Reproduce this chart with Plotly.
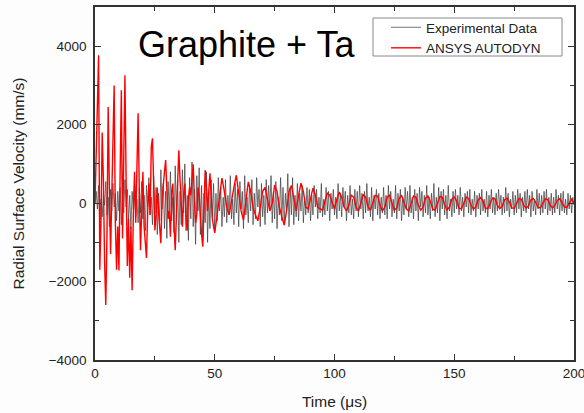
import plotly.graph_objects as go

# ---- Experimental data (black), sampled every 0.5 us from 0 to 200 us ----
exp_step = 0.5
exp_vel = [
    0, 300, -150, 450, -500, 100, -350, 250, -50, 550, -300, 150, -600, 350, -200, 500, -100, 250, -450, 300,
    -200, 400, -550, 150, -250, 600, -100, 350, -450, 200, -650, 300, -150, 500, -350, 100, -500, 400, -250, 550,
    -400, 200, -700, 450, -100, 650, -300, 150, -550, 700, -250, 400, -800, 250, -450, 850, -150, 500, -650, 300,
    -900, 550, -200, 800, -450, 150, -750, 950, -350, 600, -1000, 300, -550, 850, -250, 1000, -700, 200, -950, 650,
    -400, 1050, -600, 350, -1050, 700, -200, 900, -800, 450, -950, 250, -500, 800, -1000, 300, -650, 600, -350, 500,
    -700, 250, -450, 650, -200, 400, -600, 150, -350, 600, -500, 200, -300, 700, -400, 100, -550, 500, -250, 350,
    -600, 550, -150, 300, -650, 700, -300, 150, -500, 450, -200, 600, -550, 250, -400, 650, -100, 350, -600, 500,
    -350, 200, -550, 600, -250, 450, -150, 700, -500, 300, -400, 550, -650, 150, -300, 650, -450, 400, -550, 250,
    -200, 750, -600, 400, -300, 650, -550, 200, -350, 500, -450, 250, -200, 450, -500, 150, -300, 400, -250, 350,
    -450, 200, -300, 450, -100, 350, -400, 150, -250, 500, -350, 100, -300, 400, -200, 300, -450, 250, -150, 350,
    -300, 150, -400, 500, -200, 250, -350, 400, -100, 300, -450, 200, -250, 450, -300, 100, -400, 350, -200, 300,
    -350, 450, -150, 250, -400, 300, -250, 500, -200, 150, -350, 400, -450, 200, -150, 350, -300, 250, -400, 150,
    -250, 400, -300, 200, -400, 450, -150, 300, -350, 100, -250, 450, -400, 250, -200, 350, -450, 150, -300, 400,
    -150, 300, -350, 450, -250, 150, -400, 350, -200, 250, -450, 400, -100, 300, -350, 200, -250, 450, -300, 150,
    -400, 250, -200, 500, -350, 150, -250, 400, -450, 300, -150, 350, -300, 200, -400, 450, -200, 100, -350, 300,
    -250, 350, -150, 200, -300, 400, -200, 150, -350, 250, -100, 300, -250, 350, -300, 100, -200, 300, -350, 200,
    -150, 250, -300, 350, -200, 100, -250, 300, -350, 200, -150, 350, -250, 150, -300, 250, -200, 350, -100, 200,
    -300, 150, -250, 400, -200, 250, -350, 100, -150, 300, -300, 200, -250, 350, -150, 250, -350, 150, -200, 300,
    -250, 350, -150, 200, -350, 300, -200, 100, -300, 350, -150, 250, -300, 200, -250, 300, -150, 350, -300, 150,
    -200, 250, -300, 150, -250, 350, -150, 200, -300, 250, -200, 300, -250, 100, -300, 250, -150, 200, -250, 150,
    -50,
]

# ---- ANSYS AUTODYN (red): 0-49.5 us every 0.5 us, then 50-200 us every 1 us ----
sim_early_step = 0.5
sim_early_vel = [
    0, 1500, 3000, 3770, -1700, -500, 1800, 600, -1500, -2600,
    -800, 2450, 400, -1300, 200, 1500, 3000, -500, -1700, -600,
    -1720, 800, 2880, -900, 1200, 3260, 500, -1600, -400, -1900,
    -600, -2220, -300, 800, -500, 600, 2290, 300, -1200, -200,
    800, -600, -1000, -1400, -200, 500, -300, 1430, 1650, 200,
    -700, -300, 400, -200, -800, -1020, 100, 600, 800, 1100,
    300, -400, -200, -860, 300, 500, -600, -1200, -300, 500,
    1350, 600, -200, -600, 200, 500, -400, -700, 100, 400,
    200, 700, 990, 100, -500, -300, 400, 200, -500, -800,
    -1110, -300, 840, 400, -200, 300, 760, 200, -400, -600,
]
sim_late_start = 50
sim_late_step = 1.0
sim_late_vel = [
    -760, -300, 200, 640, 300, -100, -300, 100, 400, 710,
    200, -200, -430, 100, 540, 300, -100, -300, -450, -100,
    300, 400, 100, -200, 0, 460, 300, -100, -350, -560,
    -200, 300, 450, 100, -200, 200, 510, 300, -100, -150,
    100, 380, 200, -100, -150, -180, 50, 250, 200, 0,
    -150, 100, 280, 150, -100, -200, -50, 200, 150, -100,
    -200, 0, 220, 150, -100, -180, 0, 200, 180, -50,
    -200, -100, 150, 200, 0, -180, -120, 120, 200, 50,
    -150, -200, 0, 180, 150, -50, -180, -100, 120, 180,
    50, -150, -180, 0, 170, 150, -50, -170, -100, 100,
    160, 50, -130, -150, 0, 150, 120, -50, -150, -100,
    80, 140, 50, -120, -140, 0, 130, 110, -50, -140,
    -80, 80, 130, 30, -120, -130, 0, 120, 100, -50,
    -130, -70, 80, 120, 20, -110, -120, 0, 110, 90,
    -40, -120, -60, 70, 110, 20, -100, -110, 0, 100,
    0,
]

exp_time = [i * exp_step for i in range(len(exp_vel))]
sim_time = [i * sim_early_step for i in range(len(sim_early_vel))] + \
           [sim_late_start + i * sim_late_step for i in range(len(sim_late_vel))]
sim_vel = sim_early_vel + sim_late_vel

x_ticks = [0, 50, 100, 150, 200]
y_ticks = [-4000, -2000, 0, 2000, 4000]

FONT = "Liberation Sans, Arial, sans-serif"
TXT = "#222222"
AX = "#333333"

fig = go.Figure()
fig.add_trace(go.Scatter(
    x=exp_time, y=exp_vel, mode="lines", name="Experimental Data",
    line=dict(color="#3a3a3a", width=0.7), legendrank=1,
))
fig.add_trace(go.Scatter(
    x=sim_time, y=sim_vel, mode="lines", name="ANSYS AUTODYN",
    line=dict(color="#ff0000", width=1.4), legendrank=2,
))

axis_common = dict(
    showline=True, linecolor=AX, linewidth=1.5, mirror="ticks",
    ticks="inside", ticklen=6, tickwidth=1.2, tickcolor=AX,
    showgrid=False, zeroline=False, ticklabeloverflow="allow",
    automargin=False,
    tickfont=dict(family=FONT, size=13.5, color=TXT),
)

fig.update_xaxes(
    range=[0, 200], tickvals=x_ticks,
    title=dict(text="Time (μs)", font=dict(family=FONT, size=15.5, color=TXT), standoff=16),
    minor=dict(ticks="inside", dtick=25, tick0=0, ticklen=4, tickwidth=1.2, tickcolor=AX),
    **axis_common,
)
fig.update_yaxes(
    range=[-4000, 5000], tickvals=y_ticks, ticklabelstandoff=4,
    title=dict(text="Radial Surface Velocity (mm/s)", font=dict(family=FONT, size=15.5, color=TXT), standoff=20),
    minor=dict(ticks="inside", dtick=1000, tick0=0, ticklen=4, tickwidth=1.2, tickcolor=AX),
    **axis_common,
)

fig.add_annotation(
    text="Graphite + Ta", xref="paper", yref="paper", x=0.085, y=0.895,
    xanchor="left", yanchor="middle", showarrow=False,
    font=dict(family=FONT, size=36, color="#000000"),
)

# legend frame (drawn as a box around the legend entries)
fig.add_shape(
    type="rect", xref="paper", yref="paper",
    x0=(373 - 95) / 479, x1=(562 - 95) / 479,
    y0=(360 - 56) / 353, y1=(360 - 18) / 353,
    line=dict(color="#888888", width=1), fillcolor="#ffffff", layer="above",
)

fig.update_layout(
    width=584, height=413,
    margin=dict(l=95, r=10, t=7, b=53),
    paper_bgcolor="#fdfdfd", plot_bgcolor="#ffffff",
    showlegend=True,
    legend=dict(
        x=(386 - 95) / 479, y=(360 - 12) / 353, xanchor="left", yanchor="top",
        bgcolor="rgba(0,0,0,0)", borderwidth=0,
        font=dict(family=FONT, size=13.5, color=TXT),
        tracegroupgap=0, itemwidth=30,
    ),
)

fig.write_html("out.html")
